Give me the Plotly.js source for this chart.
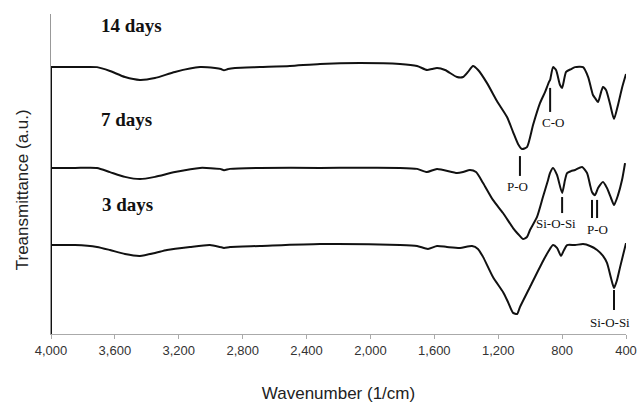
<!DOCTYPE html>
<html>
<head>
<meta charset="utf-8">
<script src="https://cdn.plot.ly/plotly-3.0.1.min.js"></script>
<style>html,body{margin:0;padding:0;background:#fff;}#chart{width:640px;height:405px;}</style>
</head>
<body>
<div id="chart"></div>
<script>
// Wavenumbers (1/cm) and transmittance (arbitrary units, offset curves)
const wn14 = [4000,3850,3712,3631,3537,3443,3349,3224,3067,2973,2936,2917,2892,2848,2691,2504,2316,2065,1815,1708,1646,1615,1583,1533,1458,1420,1389,1358,1326,1270,1208,1145,1107,1076,1051,1020,982,938,907,882,875,857,838,813,800,775,744,719,669,637,619,607,594,575,556,544,525,500,475,450,425,400];
const t14  = [83.4,83.4,83.4,82.2,80.3,79.4,80.0,81.9,83.4,83.1,82.8,82.4,82.8,83.1,83.4,83.75,84.4,84.7,84.4,83.75,82.5,82.8,83.1,82.5,80.3,80.3,81.9,83.75,82.5,78.4,72.8,67.8,63.1,59.4,57.8,58.4,65.3,72.2,75.6,78.8,79.4,83.4,82.5,77.8,76.9,81.9,82.8,83.4,83.4,80.3,76.9,74.7,73.75,72.5,75.6,77.2,76.25,71.9,67.2,71.6,76.9,81.25];

const wn7 = [4000,3850,3712,3631,3537,3443,3349,3224,3067,2942,2917,2879,2691,2316,1815,1708,1646,1583,1458,1420,1377,1339,1295,1233,1170,1107,1076,1045,1020,1001,957,920,888,876,857,832,800,782,769,744,719,675,644,625,613,594,575,544,519,494,475,450,425,406];
const t7  = [51.9,51.9,51.9,50.6,49.1,48.4,49.1,50.6,51.9,51.6,51.2,51.6,51.9,51.9,51.9,51.6,50.6,51.6,50.3,50.6,51.25,50.6,47.2,41.9,37.8,33.1,31.25,29.7,30.3,32.5,36.6,42.8,48.1,50.3,51.9,49.7,44.1,48.1,50.3,50.9,51.25,52.2,50.3,46.6,44.4,43.4,45.6,47.5,45.6,42.5,40.3,43.4,48.1,53.4];

const wn3 = [4000,3850,3712,3631,3537,3443,3349,3274,3130,3005,2942,2917,2879,2691,2316,1815,1708,1640,1583,1521,1439,1364,1327,1295,1233,1170,1139,1107,1082,1064,1001,926,888,857,832,807,788,769,719,669,625,581,544,519,494,475,456,437,400];
const t3  = [27.8,27.8,27.2,26.25,25.0,24.4,25.3,26.25,27.2,27.8,27.2,26.9,27.2,27.5,28.1,27.8,27.5,26.6,27.5,27.2,26.9,27.5,26.6,24.1,17.8,13.1,10.0,6.6,6.25,8.4,14.7,22.2,25.6,27.8,26.9,24.4,26.25,27.8,27.8,28.1,27.5,26.25,24.4,22.2,17.5,14.4,16.9,20.9,28.4];

const seriesNames = ["14 days","7 days","3 days"];
const seriesLabelWn = [3493,3530,3518];
const seriesLabelT = [96.4,66.9,40.4];

// Band assignments: label, wavenumber of tick, tick top, tick bottom, label wn, label t
const bandText  = ["C-O","P-O","Si-O-Si","P-O","Si-O-Si"];
const bandWn    = [875,1064,800,null,475];
const bandTop   = [76.9,55.6,42.8,41.9,13.75];
const bandBot   = [69.4,49.4,37.8,36.25,7.5];
const bandLblWn = [857,1082,838,581,500];
const bandLblT  = [66.0,46.0,34.5,32.6,3.6];
const poDoubleWn = [613,581];

const lineStyle = {color:'#111', width:2};
const traces = [
  {x:wn14, y:t14, mode:'lines', line:Object.assign({shape:'spline',smoothing:0.6},lineStyle), name:seriesNames[0], hoverinfo:'skip'},
  {x:wn7,  y:t7,  mode:'lines', line:Object.assign({shape:'spline',smoothing:0.6},lineStyle), name:seriesNames[1], hoverinfo:'skip'},
  {x:wn3,  y:t3,  mode:'lines', line:Object.assign({shape:'spline',smoothing:0.6},lineStyle), name:seriesNames[2], hoverinfo:'skip'}
];

const shapes = [];
// dark left edge below the top spectrum
shapes.push({type:'line', xref:'x', yref:'y', x0:4000, x1:4000, y0:0, y1:t14[0], line:{color:'#111', width:2}});
bandText.forEach((b,i)=>{
  if (bandWn[i] !== null) {
    shapes.push({type:'line', xref:'x', yref:'y', x0:bandWn[i], x1:bandWn[i], y0:bandBot[i], y1:bandTop[i], line:{color:'#111', width:2}});
  } else {
    poDoubleWn.forEach(w=>shapes.push({type:'line', xref:'x', yref:'y', x0:w, x1:w, y0:bandBot[i], y1:bandTop[i], line:{color:'#111', width:2}}));
  }
});

const serif = 'Liberation Serif, Times New Roman, serif';
const annotations = [];
seriesNames.forEach((s,i)=>annotations.push({x:seriesLabelWn[i], y:seriesLabelT[i], xref:'x', yref:'y', text:'<b>'+s+'</b>', showarrow:false, font:{family:serif, size:19, color:'#111'}}));
bandText.forEach((b,i)=>annotations.push({x:bandLblWn[i], y:bandLblT[i], xref:'x', yref:'y', text:b, showarrow:false, font:{family:serif, size:13, color:'#111'}}));
annotations.push({x:-0.05, y:0.45, xref:'paper', yref:'paper', xanchor:'center', yanchor:'middle', text:'Treansmittance (a.u.)', textangle:-90, showarrow:false, font:{family:'Liberation Sans, Arial, sans-serif', size:17, color:'#222'}});

const layout = {
  width:640, height:405,
  margin:{l:51, r:14, t:14, b:71},
  paper_bgcolor:'#fff', plot_bgcolor:'#fff',
  showlegend:false,
  font:{family:'Liberation Sans, Arial, sans-serif', color:'#333'},
  xaxis:{
    range:[4000,400], tickmode:'array',
    tickvals:[4000,3600,3200,2800,2400,2000,1600,1200,800,400],
    tickformat:',d', showgrid:false, zeroline:false,
    showline:true, linecolor:'#aaa', linewidth:1,
    ticks:'outside', ticklen:4, tickcolor:'#aaa',
    tickfont:{size:13, color:'#333'},
    title:{text:'Wavenumber (1/cm)', font:{size:17, color:'#222'}, standoff:30}
  },
  yaxis:{
    range:[0,100], showticklabels:false, ticks:'', showgrid:false, zeroline:false,
    showline:true, linecolor:'#999', linewidth:1
  },
  shapes:shapes,
  annotations:annotations
};

Plotly.newPlot('chart', traces, layout, {staticPlot:true, displayModeBar:false});
</script>
</body>
</html>
